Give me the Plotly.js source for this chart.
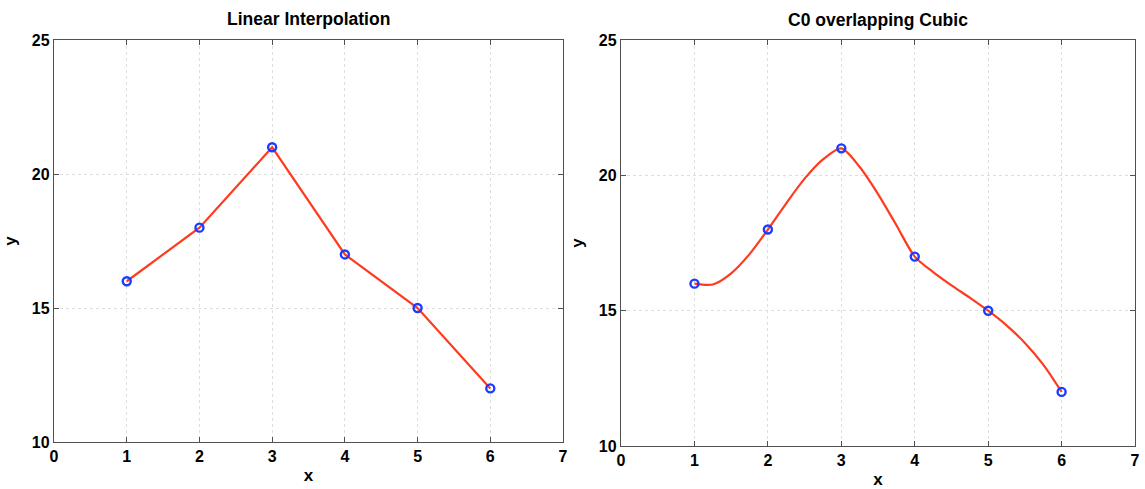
<!DOCTYPE html>
<html>
<head>
<meta charset="utf-8">
<script src="https://cdn.plot.ly/plotly-3.0.1.min.js"></script>
<style>html,body{margin:0;padding:0;background:#fff}#chart{width:1145px;height:489px}</style>
</head>
<body>
<div id="chart"></div>
<script>
// Data points (both panels)
const pointsX = [1, 2, 3, 4, 5, 6];
const pointsY = [16, 18, 21, 17, 15, 12];

// Right panel: C0 overlapping cubic curve
const curveX = [1, 1.25, 1.5, 1.75, 2, 2.25, 2.5, 2.75, 3, 3.25, 3.5, 3.75, 4, 4.25, 4.5, 4.75, 5, 5.25, 5.5, 5.75, 6];
const curveY = [16, 15.97, 16.38, 17.09, 18, 18.97, 19.88, 20.59, 21, 20.31, 19.31, 18.16, 17, 16.43, 15.94, 15.48, 15, 14.46, 13.81, 13.01, 12];

const titles = ["Linear Interpolation", "C0 overlapping Cubic"];
const xTicks = [0, 1, 2, 3, 4, 5, 6, 7];
const yTicks = [10, 15, 20, 25];

const lineColor = "#ff3b1f";
const markerColor = "#1a3cff";
const font = "Liberation Sans, Arial, Helvetica, sans-serif";

const markerStyle = {symbol: "circle-open", size: 8, color: markerColor, line: {width: 2.4, color: markerColor}};

const traces = [
  {x: pointsX, y: pointsY, mode: "lines", line: {color: lineColor, width: 2.2}, xaxis: "x", yaxis: "y", hoverinfo: "skip"},
  {x: pointsX, y: pointsY, mode: "markers", marker: markerStyle, xaxis: "x", yaxis: "y"},
  {x: curveX, y: curveY, mode: "lines", line: {color: lineColor, width: 2.2, shape: "spline", smoothing: 0.8}, xaxis: "x2", yaxis: "y2", hoverinfo: "skip"},
  {x: pointsX, y: pointsY, mode: "markers", marker: markerStyle, xaxis: "x2", yaxis: "y2"}
];

function xAxis(domain, anchor, standoff) {
  return {
    domain: domain, anchor: anchor, range: [0, 7], tickvals: xTicks, ticktext: xTicks.map(String),
    showline: true, mirror: "ticks", linecolor: "#505050", linewidth: 1.2,
    ticks: "inside", ticklen: 5, tickcolor: "#505050",
    showgrid: true, gridcolor: "#dedede", griddash: "dot", gridwidth: 1,
    zeroline: false, automargin: false,
    tickfont: {family: font, size: 16, color: "#000", weight: "bold"},
    title: {text: "<b>x</b>", font: {family: font, size: 17, color: "#000"}, standoff: standoff}
  };
}
function yAxis(domain, anchor) {
  return {
    domain: domain, anchor: anchor, range: [10, 25], tickvals: yTicks, ticktext: yTicks.map(String),
    showline: true, mirror: "ticks", linecolor: "#505050", linewidth: 1.2,
    ticks: "inside", ticklen: 5, tickcolor: "#505050",
    showgrid: true, gridcolor: "#dedede", griddash: "dot", gridwidth: 1,
    zeroline: false, automargin: false, ticklabelstandoff: 0,
    tickfont: {family: font, size: 16, color: "#000", weight: "bold"},
    title: {text: "<b>y</b>", font: {family: font, size: 17, color: "#000"}, standoff: 10}
  };
}

const layout = {
  width: 1145, height: 489,
  margin: {l: 0, r: 0, t: 0, b: 0},
  paper_bgcolor: "#fff", plot_bgcolor: "#fff",
  showlegend: false,
  xaxis: xAxis([0.0472, 0.4917], "y", 4),
  yaxis: yAxis([0.0961, 0.918], "x"),
  xaxis2: xAxis([0.5424, 0.9913], "y2", 6),
  yaxis2: yAxis([0.0879, 0.918], "x2"),
  annotations: [
    {text: "<b>" + titles[0] + "</b>", xref: "x domain", yref: "y domain", x: 0.5, y: 1, yanchor: "middle", yshift: 21, showarrow: false, font: {family: font, size: 17.5, color: "#000"}},
    {text: "<b>" + titles[1] + "</b>", xref: "x2 domain", yref: "y2 domain", x: 0.5, y: 1, yanchor: "middle", yshift: 20, showarrow: false, font: {family: font, size: 17.5, color: "#000"}}
  ]
};

Plotly.newPlot("chart", traces, layout, {displayModeBar: false, staticPlot: true});
</script>
</body>
</html>
